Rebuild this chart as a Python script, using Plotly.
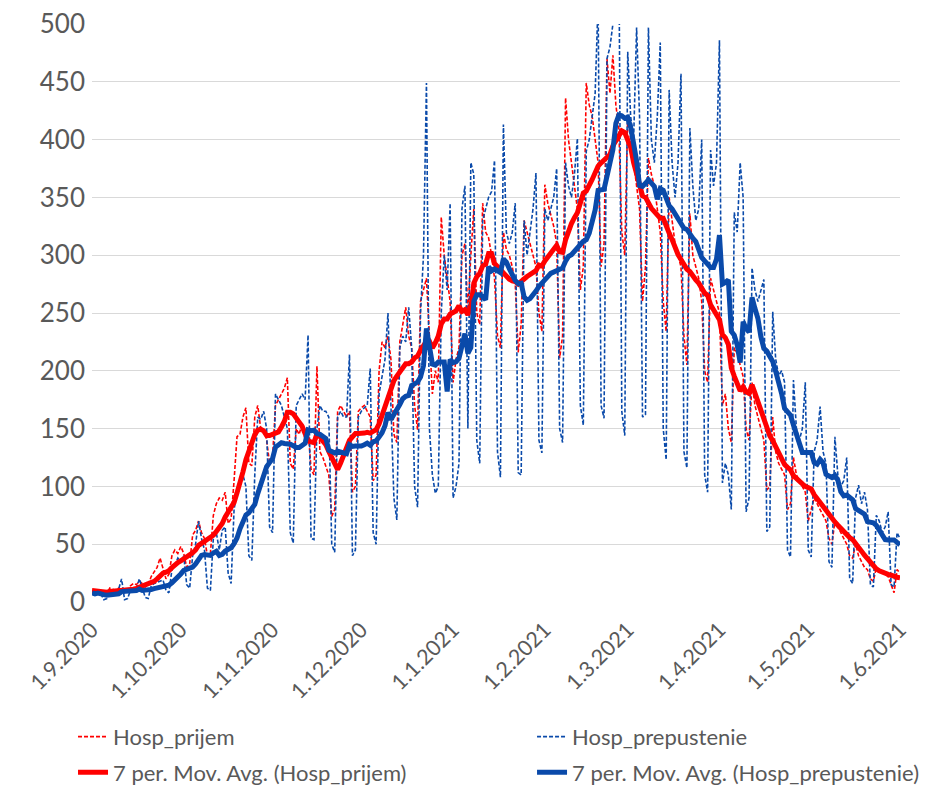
import pandas as pd
import plotly.graph_objects as go

start_date = "2020-09-01"
n_days = 274

# Daily hospital admissions (Hosp_prijem), from Tue 1.9.2020, weeks Mon..Sun
hosp_prijem = [
    10, 9, 8, 11, 6, 7,
    12, 11, 10, 12, 9, 8, 9,
    14, 16, 15, 18, 16, 13, 15,
    22, 26, 30, 38, 30, 20, 24,
    40, 45, 42, 48, 42, 30, 33,
    58, 62, 70, 60, 55, 40, 42,
    75, 85, 90, 88, 95, 68, 72,
    105, 143, 145, 160, 168, 120, 118,
    160, 170, 150, 150, 140, 120, 125,
    170, 175, 180, 185, 194, 120, 115,
    150, 145, 155, 140, 150, 115, 110,
    204, 130, 125, 118, 110, 74, 80,
    165, 170, 165, 160, 165, 95, 100,
    165, 168, 170, 165, 160, 105, 110,
    200, 225, 220, 230, 210, 145, 138,
    225, 240, 255, 230, 220, 170, 149,
    260, 270, 280, 230, 180, 200, 190,
    333, 300, 280, 260, 190, 210, 220,
    300, 310, 250, 300, 340, 250, 240,
    345, 320, 315, 300, 280, 230, 220,
    320, 305, 300, 290, 275, 216, 240,
    330, 320, 310, 300, 290, 250, 234,
    361, 345, 335, 325, 310, 211, 230,
    436, 400, 380, 360, 340, 270, 290,
    449, 430, 420, 400, 380, 290, 310,
    470, 440, 473, 430, 410, 320, 300,
    420, 400, 380, 360, 340, 260, 290,
    384, 370, 360, 340, 320, 260, 234,
    350, 330, 310, 300, 290, 230, 205,
    336, 300, 290, 280, 260, 200, 190,
    280, 270, 260, 250, 170, 180, 150,
    138, 220, 215, 205, 195, 150, 140,
    190, 170, 160, 150, 140, 97, 100,
    160, 130, 120, 115, 110, 80, 85,
    125, 110, 105, 100, 95, 70, 80,
    90, 85, 80, 75, 70, 55, 50,
    70, 65, 60, 55, 50, 40, 38,
    50, 40, 35, 30, 28, 20, 18,
    30, 28, 25, 24, 22, 15, 8,
    28, 25,
]

# Daily hospital discharges (Hosp_prepustenie)
hosp_prepustenie = [
    8, 6, 9, 7, 2, 3,
    9, 10, 8, 11, 20, 2, 3,
    10, 11, 12, 20, 12, 4, 3,
    14, 16, 17, 18, 19, 10, 8,
    28, 32, 38, 35, 40, 15, 12,
    40, 50, 70, 55, 45, 12, 10,
    55, 60, 45, 62, 65, 25, 16,
    80, 95, 100, 110, 100, 40, 36,
    110, 160, 158, 165, 150, 65, 60,
    180, 175, 170, 160, 150, 60, 51,
    170, 175, 180, 175, 231, 55, 54,
    150, 170, 165, 165, 160, 50, 43,
    160, 165, 160, 160, 214, 40, 45,
    160, 165, 168, 170, 202, 60, 50,
    180, 195, 210, 250, 160, 90, 71,
    220, 230, 225, 255, 220, 100, 82,
    250, 300, 449, 150, 110, 94, 100,
    250, 300, 270, 345, 90, 100, 120,
    340, 360, 150, 380, 370, 140, 120,
    330, 340, 350, 355, 382, 130, 108,
    413, 320, 310, 320, 345, 112, 110,
    330, 300, 320, 340, 371, 140, 129,
    340, 330, 340, 350, 375, 150, 138,
    380, 360, 350, 370, 401, 170, 153,
    390, 400, 420, 440, 520, 170, 159,
    470, 480, 500, 600, 570, 165, 144,
    476, 420, 400, 497, 420, 160, 162,
    497, 400, 380, 420, 484, 150, 123,
    443, 380, 350, 380, 457, 130, 116,
    410, 360, 330, 340, 400, 110, 95,
    391, 360, 380, 486, 103, 120, 110,
    80, 337, 320, 380, 350, 78, 90,
    289, 270, 260, 270, 279, 61, 65,
    251, 210, 196, 200, 190, 45, 39,
    192, 150, 140, 150, 190, 45, 39,
    130, 140, 169, 130, 120, 35, 30,
    143, 110, 100, 105, 125, 20, 16,
    90, 101, 85, 95, 80, 15, 13,
    75, 70, 60, 65, 78, 15, 13,
    60, 55,
]

tick_dates = ["2020-09-01", "2020-10-01", "2020-11-01", "2020-12-01", "2021-01-01",
              "2021-02-01", "2021-03-01", "2021-04-01", "2021-05-01", "2021-06-01"]
tick_labels = ["1.9.2020", "1.10.2020", "1.11.2020", "1.12.2020", "1.1.2021",
               "1.2.2021", "1.3.2021", "1.4.2021", "1.5.2021", "1.6.2021"]
y_ticks = list(range(0, 501, 50))

dates = pd.date_range(start_date, periods=n_days, freq="D")
prijem = pd.Series(hosp_prijem, index=dates)
prepust = pd.Series(hosp_prepustenie, index=dates)
ma_prijem = prijem.rolling(7, min_periods=1).mean()
ma_prepust = prepust.rolling(7, min_periods=1).mean()

RED = "#FF0000"
BLUE = "#0A4AAA"

fig = go.Figure()
fig.add_trace(go.Scatter(x=dates, y=prijem.values, mode="lines", name="Hosp_prijem",
                         legend="legend", legendgroup="a",
                         line=dict(color=RED, width=1.6, dash="4px,2px")))
fig.add_trace(go.Scatter(x=dates, y=prepust.values, mode="lines", name="Hosp_prepustenie",
                         legend="legend2", legendgroup="b",
                         line=dict(color=BLUE, width=1.6, dash="4px,2px")))
fig.add_trace(go.Scatter(x=dates, y=ma_prijem.values, mode="lines",
                         name="7 per. Mov. Avg. (Hosp_prijem)",
                         legend="legend", legendgroup="c",
                         line=dict(color=RED, width=5)))
fig.add_trace(go.Scatter(x=dates, y=ma_prepust.values, mode="lines",
                         name="7 per. Mov. Avg. (Hosp_prepustenie)",
                         legend="legend2", legendgroup="d",
                         line=dict(color=BLUE, width=5)))

legend_common = dict(orientation="v", y=-0.197, xanchor="left", yanchor="top",
                     font=dict(size=22, color="#595959"), traceorder="grouped",
                     tracegroupgap=4, bgcolor="rgba(0,0,0,0)")

fig.update_layout(
    width=932, height=787,
    margin=dict(l=92, r=32, t=24, b=185, autoexpand=False),
    plot_bgcolor="white", paper_bgcolor="white",
    font=dict(family="Lato", color="#595959"),
    showlegend=True,
    legend=dict(x=-0.0235, **legend_common),
    legend2=dict(x=0.5446, **legend_common),
)
fig.update_xaxes(
    type="date", range=[tick_dates[0], tick_dates[-1]],
    tickvals=tick_dates, ticktext=tick_labels, tickangle=-45,
    tickfont=dict(size=21.5, color="#595959"),
    showgrid=False, zeroline=False, showline=False, ticks="",
    ticklabelstandoff=10,
)
fig.update_yaxes(
    range=[0, 500], tickvals=y_ticks,
    tickfont=dict(size=26, color="#595959"),
    showgrid=True, gridcolor="#D9D9D9", gridwidth=1.3,
    zeroline=False, showline=False, ticks="", ticklabelstandoff=6,
)

fig.write_html("out.html", config={"displayModeBar": False},
               post_script="document.body.style.margin='0';document.body.style.overflow='hidden';")
